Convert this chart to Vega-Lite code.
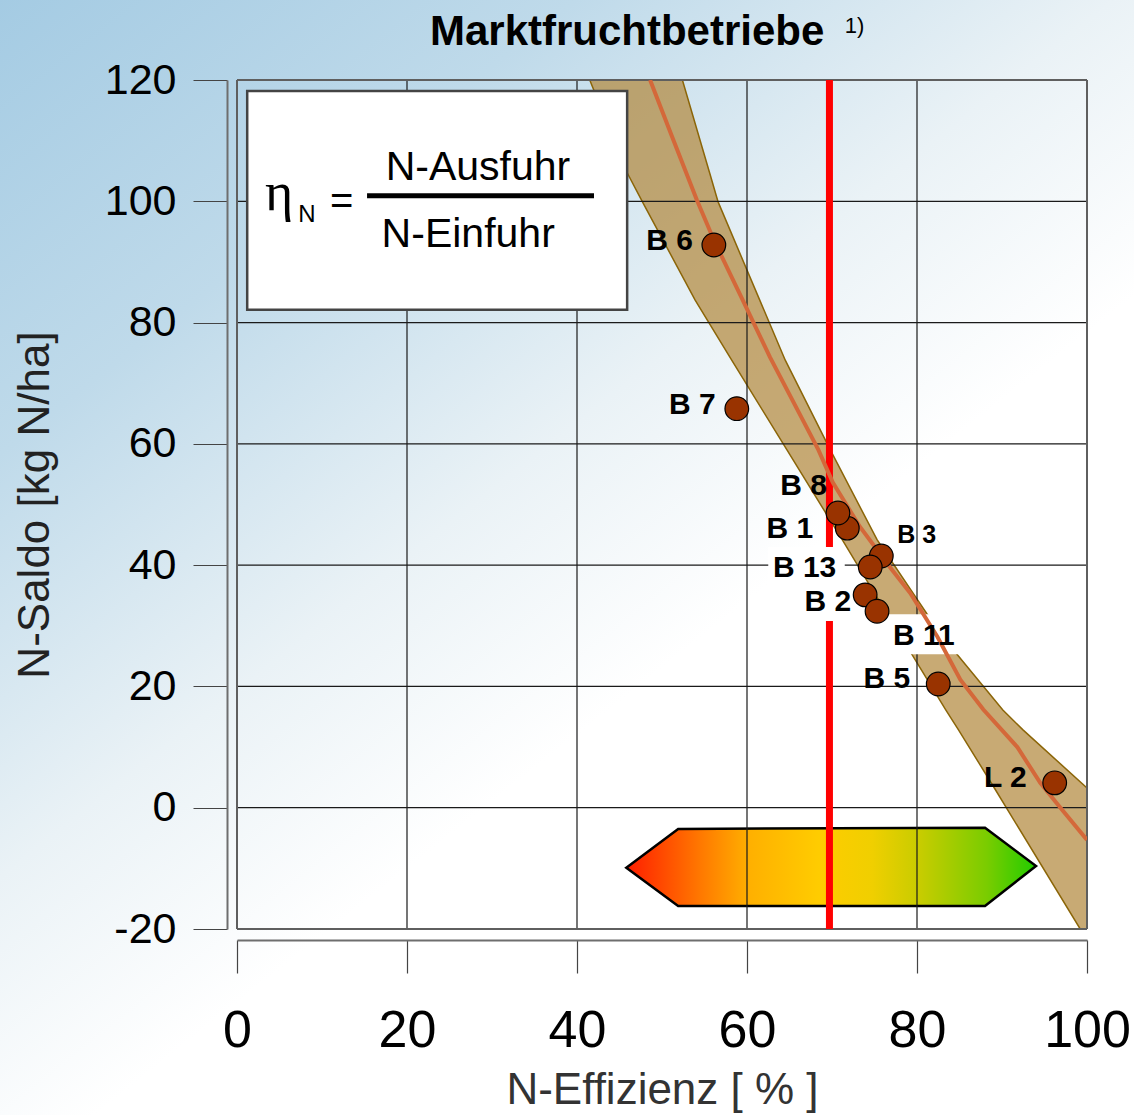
{
  "$schema": "https://vega.github.io/schema/vega-lite/v6.json",
  "width": 850,
  "height": 849,
  "autosize": "none",
  "padding": {"left": 237, "top": 80, "right": 47, "bottom": 186},
  "background": "#ffffff",
  "config": {"view": {"stroke": null}, "font": "Liberation Sans"},
  "datasets": {
    "one": [{}],
    "points": [
      {"id": "B 6", "eff": 56.1, "saldo": 92.8},
      {"id": "B 7", "eff": 58.8, "saldo": 65.8},
      {"id": "B 1", "eff": 71.8, "saldo": 46.1},
      {"id": "B 8", "eff": 70.7, "saldo": 48.6},
      {"id": "B 3", "eff": 75.8, "saldo": 41.5},
      {"id": "B 13", "eff": 74.5, "saldo": 39.7},
      {"id": "B 2", "eff": 73.9, "saldo": 35.1},
      {"id": "B 11", "eff": 75.3, "saldo": 32.4},
      {"id": "B 5", "eff": 82.5, "saldo": 20.4},
      {"id": "L 2", "eff": 96.2, "saldo": 4.1}
    ],
    "band": [
      {"saldo": 120, "lo": 41.5, "hi": 52.4},
      {"saldo": 104.7, "lo": 45.9, "hi": 55.6},
      {"saldo": 99.9, "lo": 47.7, "hi": 56.6},
      {"saldo": 83.7, "lo": 53.9, "hi": 61.5},
      {"saldo": 73.8, "lo": 58.2, "hi": 64.5},
      {"saldo": 59.0, "lo": 64.7, "hi": 69.8},
      {"saldo": 44.2, "lo": 71.2, "hi": 75.3},
      {"saldo": 31.9, "lo": 76.5, "hi": 81.2},
      {"saldo": 25.3, "lo": 79.4, "hi": 84.7},
      {"saldo": 16.1, "lo": 83.4, "hi": 90.1},
      {"saldo": 12.8, "lo": 84.9, "hi": 92.5},
      {"saldo": 3.25, "lo": 89.1, "hi": 100},
      {"saldo": -20, "lo": 99.2, "hi": 100}
    ],
    "trend": [
      {"eff": 48.6, "saldo": 120.0},
      {"eff": 51.2, "saldo": 110.6},
      {"eff": 54.1, "saldo": 100.2},
      {"eff": 56.2, "saldo": 93.3},
      {"eff": 59.5, "saldo": 83.7},
      {"eff": 62.7, "saldo": 74.3},
      {"eff": 68.4, "saldo": 59.0},
      {"eff": 70.1, "saldo": 53.6},
      {"eff": 73.3, "saldo": 46.3},
      {"eff": 76.8, "saldo": 39.7},
      {"eff": 79.2, "saldo": 35.4},
      {"eff": 82.4, "saldo": 28.2},
      {"eff": 85.1, "saldo": 21.1},
      {"eff": 87.8, "saldo": 16.2},
      {"eff": 91.8, "saldo": 10.0},
      {"eff": 94.5, "saldo": 4.1},
      {"eff": 96.8, "saldo": 0.1},
      {"eff": 100.0, "saldo": -5.3}
    ],
    "arrow": [
      {"eff": 45.8, "top": -9.9, "bottom": -9.9},
      {"eff": 51.9, "top": -3.5, "bottom": -16.2},
      {"eff": 88.0, "top": -3.3, "bottom": -16.2},
      {"eff": 94.0, "top": -9.6, "bottom": -9.6}
    ],
    "vgrid": [{"v": 20}, {"v": 40}, {"v": 60}, {"v": 80}],
    "hgrid": [{"h": 0}, {"h": 20}, {"h": 40}, {"h": 60}, {"h": 80}, {"h": 100}],
    "vframe": [{"v": 0}, {"v": 100}],
    "hframe": [{"h": -20}, {"h": 120}]
  },
  "layer": [
    {
      "data": {"name": "one"},
      "mark": {
        "type": "rect",
        "clip": false,
        "fill": {
          "gradient": "linear",
          "x1": 0, "y1": 0, "x2": 0.8, "y2": 1,
          "stops": [
            {"offset": 0, "color": "#A4CBE3"},
            {"offset": 0.25, "color": "#BFDAEA"},
            {"offset": 0.48, "color": "#EAF2F6"},
            {"offset": 0.65, "color": "#FFFFFF"},
            {"offset": 1, "color": "#FFFFFF"}
          ]
        }
      },
      "encoding": {
        "x": {"datum": -28, "type": "quantitative", "scale": {"domain": [0, 100], "nice": false, "zero": false}},
        "x2": {"datum": 106},
        "y": {"datum": 134, "type": "quantitative", "scale": {"domain": [-20, 120], "nice": false, "zero": false}},
        "y2": {"datum": -51}
      }
    },
    {
      "data": {"name": "band"},
      "mark": {"type": "area", "orient": "horizontal", "clip": true, "fill": "#B3893E", "fillOpacity": 0.72, "stroke": "#8B6508", "strokeWidth": 1.5},
      "encoding": {
        "y": {"field": "saldo", "type": "quantitative", "scale": {"domain": [-20, 120], "nice": false, "zero": false}},
        "x": {"field": "lo", "type": "quantitative", "scale": {"domain": [0, 100], "nice": false, "zero": false}},
        "x2": {"field": "hi"}
      }
    },
    {
      "data": {"name": "arrow"},
      "mark": {
        "type": "area",
        "stroke": "#000000",
        "strokeWidth": 2.5,
        "fill": {
          "gradient": "linear",
          "x1": 0, "y1": 0, "x2": 1, "y2": 0,
          "stops": [
            {"offset": 0, "color": "#FF1E00"},
            {"offset": 0.18, "color": "#FF7800"},
            {"offset": 0.3, "color": "#FFB000"},
            {"offset": 0.47, "color": "#FFCC00"},
            {"offset": 0.6, "color": "#F0CF00"},
            {"offset": 0.72, "color": "#C6CC00"},
            {"offset": 0.88, "color": "#7ACC00"},
            {"offset": 1, "color": "#22CC00"}
          ]
        }
      },
      "encoding": {
        "x": {"field": "eff", "type": "quantitative", "scale": {"domain": [0, 100], "nice": false, "zero": false}},
        "y": {"field": "top", "type": "quantitative", "scale": {"domain": [-20, 120], "nice": false, "zero": false}},
        "y2": {"field": "bottom"}
      }
    },
    {
      "data": {"name": "vgrid"},
      "mark": {"type": "rule", "color": "#1a1a1a", "strokeWidth": 1.2},
      "encoding": {"x": {"field": "v", "type": "quantitative", "scale": {"domain": [0, 100], "nice": false, "zero": false}}}
    },
    {
      "data": {"name": "hgrid"},
      "mark": {"type": "rule", "color": "#1a1a1a", "strokeWidth": 1.2},
      "encoding": {"y": {"field": "h", "type": "quantitative", "scale": {"domain": [-20, 120], "nice": false, "zero": false}}}
    },
    {
      "data": {"name": "vframe"},
      "mark": {"type": "rule", "color": "#5f5f5f", "strokeWidth": 2},
      "encoding": {"x": {"field": "v", "type": "quantitative", "scale": {"domain": [0, 100], "nice": false, "zero": false}}}
    },
    {
      "data": {"name": "hframe"},
      "mark": {"type": "rule", "color": "#5f5f5f", "strokeWidth": 2},
      "encoding": {"y": {"field": "h", "type": "quantitative", "scale": {"domain": [-20, 120], "nice": false, "zero": false}}}
    },
    {
      "data": {"name": "one"},
      "mark": {"type": "rule", "color": "#FF0000", "strokeWidth": 7},
      "encoding": {"x": {"datum": 69.7, "type": "quantitative"}}
    },
    {
      "data": {"name": "one"},
      "mark": {"type": "rect", "fill": "#FFFFFF"},
      "encoding": {
        "x": {"datum": 62.5, "type": "quantitative"},
        "x2": {"datum": 71.5},
        "y": {"datum": 43.0, "type": "quantitative"},
        "y2": {"datum": 30.8}
      }
    },
    {
      "data": {"name": "one"},
      "mark": {"type": "rect", "fill": "#FFFFFF"},
      "encoding": {
        "x": {"datum": 76.2, "type": "quantitative"},
        "x2": {"datum": 85.3},
        "y": {"datum": 31.9, "type": "quantitative"},
        "y2": {"datum": 25.3}
      }
    },
    {
      "data": {"name": "trend"},
      "mark": {"type": "line", "color": "#D4683A", "strokeWidth": 4, "clip": true},
      "encoding": {
        "x": {"field": "eff", "type": "quantitative", "scale": {"domain": [0, 100], "nice": false, "zero": false}},
        "y": {"field": "saldo", "type": "quantitative", "scale": {"domain": [-20, 120], "nice": false, "zero": false}}
      }
    },
    {
      "data": {"name": "one"},
      "mark": {"type": "rect", "fill": "#FFFFFF", "stroke": "#444444", "strokeWidth": 2.5},
      "encoding": {
        "x": {"datum": 1.2, "type": "quantitative"},
        "x2": {"datum": 45.9},
        "y": {"datum": 118.2, "type": "quantitative"},
        "y2": {"datum": 82.1}
      }
    },
    {
      "data": {"name": "one"},
      "mark": {"type": "rule", "color": "#000000", "strokeWidth": 5},
      "encoding": {
        "x": {"datum": 15.3, "type": "quantitative"},
        "x2": {"datum": 42.0},
        "y": {"datum": 100.9, "type": "quantitative"}
      }
    },
    {
      "data": {"name": "one"},
      "mark": {"type": "text", "text": "N-Ausfuhr", "font": "Liberation Sans", "fontSize": 41, "align": "center", "baseline": "alphabetic", "color": "#000000"},
      "encoding": {"x": {"datum": 28.35, "type": "quantitative"}, "y": {"datum": 103.5, "type": "quantitative"}}
    },
    {
      "data": {"name": "one"},
      "mark": {"type": "text", "text": "N-Einfuhr", "font": "Liberation Sans", "fontSize": 41, "align": "center", "baseline": "alphabetic", "color": "#000000"},
      "encoding": {"x": {"datum": 27.2, "type": "quantitative"}, "y": {"datum": 92.5, "type": "quantitative"}}
    },
    {
      "data": {"name": "one"},
      "mark": {"type": "text", "text": "η", "font": "Liberation Serif", "fontSize": 54, "align": "left", "baseline": "alphabetic", "color": "#000000"},
      "encoding": {"x": {"datum": 3.3, "type": "quantitative"}, "y": {"datum": 98.6, "type": "quantitative"}}
    },
    {
      "data": {"name": "one"},
      "mark": {"type": "text", "text": "N", "font": "Liberation Sans", "fontSize": 24, "align": "left", "baseline": "alphabetic", "color": "#000000"},
      "encoding": {"x": {"datum": 7.2, "type": "quantitative"}, "y": {"datum": 96.6, "type": "quantitative"}}
    },
    {
      "data": {"name": "one"},
      "mark": {"type": "text", "text": "=", "font": "Liberation Sans", "fontSize": 40, "align": "center", "baseline": "alphabetic", "color": "#000000"},
      "encoding": {"x": {"datum": 12.3, "type": "quantitative"}, "y": {"datum": 97.9, "type": "quantitative"}}
    },
    {
      "data": {"name": "points"},
      "mark": {"type": "circle", "size": 560, "fill": "#993300", "stroke": "#000000", "strokeWidth": 1.2, "opacity": 1},
      "encoding": {
        "x": {
          "field": "eff", "type": "quantitative",
          "scale": {"domain": [0, 100], "nice": false, "zero": false},
          "axis": {
            "values": [0, 20, 40, 60, 80, 100],
            "offset": 11,
            "grid": false,
            "zindex": 1,
            "tickSize": 33,
            "tickColor": "#444444",
            "tickWidth": 1.2,
            "domainColor": "#6e6e6e",
            "domainWidth": 2,
            "labelFont": "Liberation Sans",
            "labelFontSize": 52,
            "labelColor": "#000000",
            "labelPadding": 32,
            "labelFlush": false,
            "labelOverlap": false,
            "labelExpr": "'' + datum.value",
            "title": "N-Effizienz [ % ]",
            "titleFont": "Liberation Sans",
            "titleFontSize": 44,
            "titleFontWeight": "normal",
            "titleColor": "#333333",
            "titlePadding": 12
          }
        },
        "y": {
          "field": "saldo", "type": "quantitative",
          "scale": {"domain": [-20, 120], "nice": false, "zero": false},
          "axis": {
            "values": [-20, 0, 20, 40, 60, 80, 100, 120],
            "offset": 10,
            "grid": false,
            "zindex": 1,
            "tickSize": 34,
            "tickColor": "#444444",
            "tickWidth": 1.2,
            "domainColor": "#6e6e6e",
            "domainWidth": 2,
            "labelFont": "Liberation Sans",
            "labelFontSize": 43,
            "labelColor": "#000000",
            "labelPadding": 17,
            "labelFlush": false,
            "labelOverlap": false,
            "labelExpr": "'' + datum.value",
            "title": "N-Saldo [kg N/ha]",
            "titleFont": "Liberation Sans",
            "titleFontSize": 44,
            "titleFontWeight": "normal",
            "titleColor": "#222222",
            "titlePadding": 47
          }
        }
      }
    },
    {
      "data": {"name": "points"},
      "transform": [{"filter": {"field": "id", "oneOf": ["B 6", "B 7"]}}],
      "mark": {"type": "text", "font": "Liberation Sans", "fontSize": 30, "fontWeight": "bold", "align": "right", "baseline": "middle", "dx": -21, "dy": -4, "color": "#000000"},
      "encoding": {"x": {"field": "eff", "type": "quantitative"}, "y": {"field": "saldo", "type": "quantitative"}, "text": {"field": "id"}}
    },
    {
      "data": {"name": "points"},
      "transform": [{"filter": {"field": "id", "oneOf": ["B 1", "B 13"]}}],
      "mark": {"type": "text", "font": "Liberation Sans", "fontSize": 30, "fontWeight": "bold", "align": "right", "baseline": "middle", "dx": -34, "dy": 1, "color": "#000000"},
      "encoding": {"x": {"field": "eff", "type": "quantitative"}, "y": {"field": "saldo", "type": "quantitative"}, "text": {"field": "id"}}
    },
    {
      "data": {"name": "points"},
      "transform": [{"filter": {"field": "id", "oneOf": ["B 5", "L 2"]}}],
      "mark": {"type": "text", "font": "Liberation Sans", "fontSize": 30, "fontWeight": "bold", "align": "right", "baseline": "middle", "dx": -28, "dy": -5, "color": "#000000"},
      "encoding": {"x": {"field": "eff", "type": "quantitative"}, "y": {"field": "saldo", "type": "quantitative"}, "text": {"field": "id"}}
    },
    {
      "data": {"name": "points"},
      "transform": [{"filter": {"field": "id", "equal": "B 2"}}],
      "mark": {"type": "text", "font": "Liberation Sans", "fontSize": 30, "fontWeight": "bold", "align": "right", "baseline": "middle", "dx": -14, "dy": 7, "color": "#000000"},
      "encoding": {"x": {"field": "eff", "type": "quantitative"}, "y": {"field": "saldo", "type": "quantitative"}, "text": {"field": "id"}}
    },
    {
      "data": {"name": "points"},
      "transform": [{"filter": {"field": "id", "equal": "B 8"}}],
      "mark": {"type": "text", "font": "Liberation Sans", "fontSize": 30, "fontWeight": "bold", "align": "right", "baseline": "middle", "dx": -11, "dy": -27, "color": "#000000"},
      "encoding": {"x": {"field": "eff", "type": "quantitative"}, "y": {"field": "saldo", "type": "quantitative"}, "text": {"field": "id"}}
    },
    {
      "data": {"name": "points"},
      "transform": [{"filter": {"field": "id", "equal": "B 3"}}],
      "mark": {"type": "text", "font": "Liberation Sans", "fontSize": 25, "fontWeight": "bold", "align": "left", "baseline": "middle", "dx": 16, "dy": -21, "color": "#000000"},
      "encoding": {"x": {"field": "eff", "type": "quantitative"}, "y": {"field": "saldo", "type": "quantitative"}, "text": {"field": "id"}}
    },
    {
      "data": {"name": "points"},
      "transform": [{"filter": {"field": "id", "equal": "B 11"}}],
      "mark": {"type": "text", "font": "Liberation Sans", "fontSize": 30, "fontWeight": "bold", "align": "left", "baseline": "middle", "dx": 16, "dy": 25, "color": "#000000"},
      "encoding": {"x": {"field": "eff", "type": "quantitative"}, "y": {"field": "saldo", "type": "quantitative"}, "text": {"field": "id"}}
    },
    {
      "data": {"name": "one"},
      "mark": {"type": "text", "text": "Marktfruchtbetriebe", "font": "Liberation Sans", "fontSize": 42, "fontWeight": "bold", "align": "center", "baseline": "alphabetic", "color": "#000000", "clip": false},
      "encoding": {"x": {"datum": 45.9, "type": "quantitative"}, "y": {"datum": 125.8, "type": "quantitative"}}
    },
    {
      "data": {"name": "one"},
      "mark": {"type": "text", "text": "1)", "font": "Liberation Sans", "fontSize": 22, "align": "left", "baseline": "alphabetic", "color": "#000000", "clip": false},
      "encoding": {"x": {"datum": 71.5, "type": "quantitative"}, "y": {"datum": 127.8, "type": "quantitative"}}
    }
  ]
}
